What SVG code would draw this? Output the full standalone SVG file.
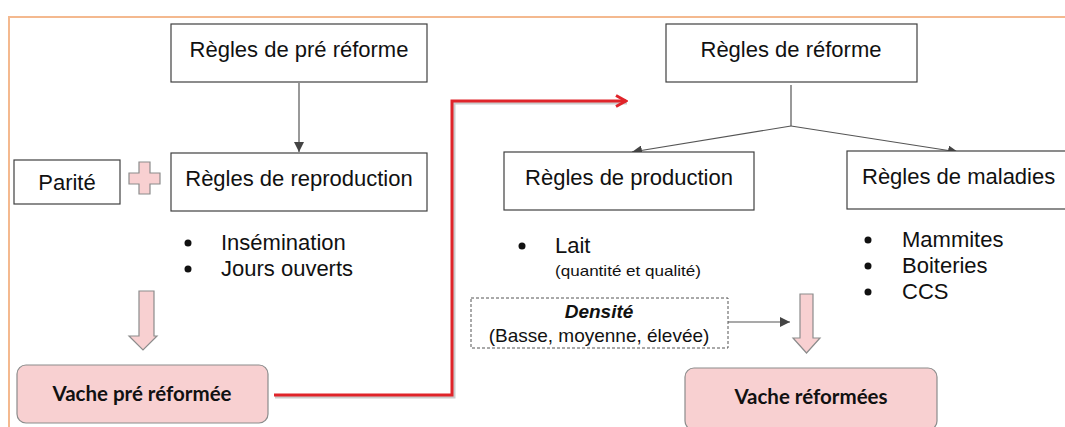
<svg xmlns="http://www.w3.org/2000/svg" width="1065" height="427" viewBox="0 0 1065 427">
<defs>
<style>
.box{fill:#fff;stroke:#404040;stroke-width:1.2}
.t{font-family:"Liberation Sans",Arial,sans-serif;font-size:22px;fill:#111}
.m{font-family:"Liberation Sans",Arial,sans-serif;font-size:19px;fill:#111}
.s{font-family:"Liberation Sans",Arial,sans-serif;font-size:15px;fill:#111}
.b{font-family:Lato,"Liberation Sans",sans-serif;font-weight:bold;font-size:20.5px;fill:#111}
.pink{fill:#f8d0d1;stroke:#8c8c8c;stroke-width:1.2}
.con{fill:none;stroke:#555;stroke-width:1.2}
</style>
<marker id="ah" viewBox="0 0 10 10" refX="10" refY="5" markerWidth="10" markerHeight="10" markerUnits="userSpaceOnUse" orient="auto">
<path d="M0,0 L10,5 L0,10 Z" fill="#444"/>
</marker>
<marker id="red" viewBox="0 0 14 14" refX="12" refY="7" markerWidth="14" markerHeight="14" markerUnits="userSpaceOnUse" orient="auto">
<path d="M2,1.5 L12,7 L2,12.5" fill="none" stroke="#e0242a" stroke-width="3"/>
</marker>
</defs>
<rect width="1065" height="427" fill="#fff"/>
<path d="M9,427 V17 H1065" fill="none" stroke="#f4b98f" stroke-width="2"/>

<g id="connectors">
<line class="con" x1="299" y1="83" x2="299" y2="152" marker-end="url(#ah)"/>
<polyline class="con" points="791,85 791,126"/>
<line class="con" x1="791" y1="126" x2="632" y2="152" marker-end="url(#ah)"/>
<line class="con" x1="791" y1="126" x2="958" y2="152" marker-end="url(#ah)"/>
<line class="con" x1="728" y1="322" x2="790" y2="322" marker-end="url(#ah)"/>
<polyline points="275,397 454,397 454,103 627,103" fill="none" stroke="#999" stroke-opacity="0.5" stroke-width="3"/>
<polyline points="274,395 452,395 452,101 626,101" fill="none" stroke="#e0242a" stroke-width="3" marker-end="url(#red)"/>
</g>

<g id="n-pre-reforme">
<rect class="box" x="171" y="24" width="256" height="58"/>
<text class="t" x="299" y="57" text-anchor="middle">Règles de pré réforme</text>
</g>
<g id="n-reproduction">
<rect class="box" x="171" y="153" width="256" height="58"/>
<text class="t" x="299" y="186" text-anchor="middle">Règles de reproduction</text>
</g>
<g id="n-parite">
<rect class="box" x="14" y="160" width="106" height="44"/>
<text class="t" x="67" y="190" text-anchor="middle">Parité</text>
</g>
<g id="plus">
<path class="pink" d="M139,162 H150 V173 H160 V184 H150 V194 H139 V184 H129 V173 H139 Z"/>
</g>
<g id="list-repro">
<circle cx="188" cy="243" r="3.5" fill="#111"/>
<text class="t" x="221" y="250">Insémination</text>
<circle cx="188" cy="269" r="3.5" fill="#111"/>
<text class="t" x="221" y="276">Jours ouverts</text>
</g>
<g id="arrow-left">
<path class="pink" d="M139,291 H154 V336 H157 L143,350 L129,336 H139 Z"/>
</g>
<g id="n-vache-pre">
<rect class="pink" x="17" y="365" width="251" height="58" rx="9"/>
<text class="b" x="142" y="401" text-anchor="middle">Vache pré réformée</text>
</g>

<g id="n-reforme">
<rect class="box" x="666" y="24" width="251" height="58"/>
<text class="t" x="791" y="57" text-anchor="middle">Règles de réforme</text>
</g>
<g id="n-production">
<rect class="box" x="504" y="152" width="250" height="58"/>
<text class="t" x="629" y="185" text-anchor="middle">Règles de production</text>
</g>
<g id="n-maladies">
<rect class="box" x="847" y="151" width="230" height="58"/>
<text class="t" x="862" y="184">Règles de maladies</text>
</g>
<g id="list-production">
<circle cx="522" cy="246" r="3.5" fill="#111"/>
<text class="t" x="555" y="253">Lait</text>
<text class="s" x="555" y="276" textLength="146" lengthAdjust="spacingAndGlyphs">(quantité et qualité)</text>
</g>
<g id="list-maladies">
<circle cx="868" cy="240" r="3.5" fill="#111"/>
<text class="t" x="902" y="247">Mammites</text>
<circle cx="868" cy="266" r="3.5" fill="#111"/>
<text class="t" x="902" y="273">Boiteries</text>
<circle cx="868" cy="292" r="3.5" fill="#111"/>
<text class="t" x="902" y="299">CCS</text>
</g>
<g id="n-densite">
<rect x="471" y="298" width="257" height="50" fill="#fff" stroke="#555" stroke-width="1" stroke-dasharray="3,2"/>
<text class="m" x="599" y="318" text-anchor="middle" font-weight="bold" font-style="italic">Densité</text>
<text class="m" x="599" y="342" text-anchor="middle">(Basse, moyenne, élevée)</text>
</g>
<g id="arrow-right">
<path class="pink" d="M800,294 H813 V338 H820 L806.5,353 L793,338 H800 Z"/>
</g>
<g id="n-vache-reformees">
<rect class="pink" x="685" y="368" width="252" height="62" rx="9"/>
<text class="b" x="811" y="404" text-anchor="middle">Vache réformées</text>
</g>
</svg>
